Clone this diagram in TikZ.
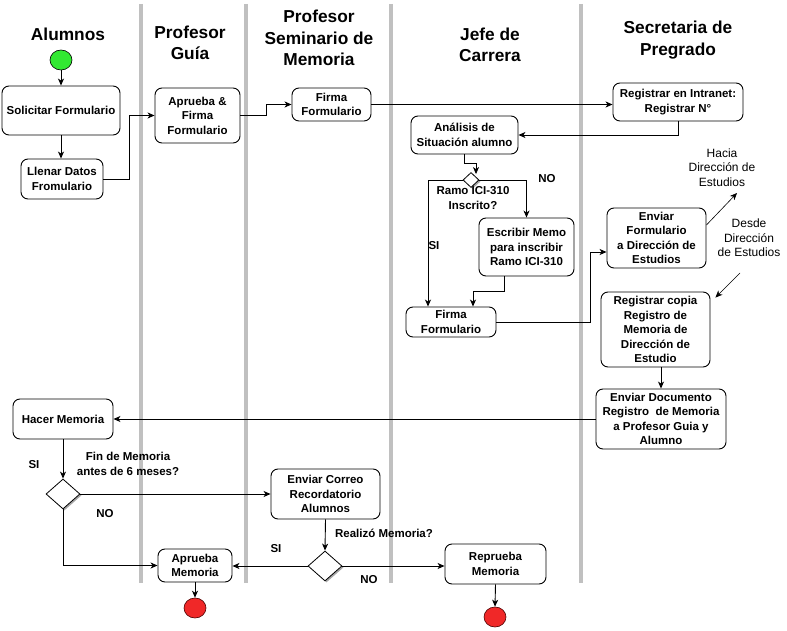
\documentclass[tikz,border=0pt]{standalone}
\usepackage{fontspec}
\setmainfont{Liberation Sans}
\usetikzlibrary{arrows.meta,shapes.geometric,shadows}
\definecolor{lanegray}{RGB}{192,192,192}
\definecolor{startgreen}{RGB}{50,232,50}
\definecolor{endred}{RGB}{240,40,40}
\tikzset{
  box/.style={draw=black, line width=0.9pt, rounded corners=7pt, fill=white, align=center,
    inner sep=0pt, font=\bfseries\fontsize{11.5}{14.5}\selectfont},
  dia/.style={draw=black, line width=0.8pt, diamond, fill=white, inner sep=0pt,
    drop shadow={shadow xshift=1.5pt, shadow yshift=-1.5pt, fill=black!35, opacity=1}},
  startnode/.style={draw=black, line width=0.6pt, ellipse, fill=startgreen, inner sep=0pt,
    minimum width=22pt, minimum height=20pt},
  endnode/.style={draw=black!70!red, line width=0.6pt, ellipse, fill=endred, inner sep=0pt,
    minimum width=22pt, minimum height=20pt},
  lane/.style={draw=lanegray, line width=4pt},
  head/.style={align=center, font=\bfseries\fontsize{17.3}{21.5}\selectfont},
  lbl/.style={align=center, font=\bfseries\fontsize{11.5}{15}\selectfont, inner sep=0pt},
  note/.style={align=center, font=\fontsize{12}{14.5}\selectfont, inner sep=0pt},
  arr/.style={draw=black, line width=0.9pt, -{Stealth[length=7pt,width=6pt,inset=2pt]}},
  thinarr/.style={draw=black, line width=0.6pt, -{Stealth[length=7pt,width=6pt,inset=2pt]}},
}
\begin{document}
\begin{tikzpicture}[x=1pt,y=-1pt]
\useasboundingbox (0,0) rectangle (787,631);
% lanes
\draw[lane] (141,4) -- (141,583);
\draw[lane] (246,4) -- (246,583);
\draw[lane] (391,4) -- (391,583);
\draw[lane] (581,4) -- (581,583);
% headers
\node[head] (h1) at (68,34) {Alumnos};
\node[head] (h2) at (190,43) {Profesor\\Guía};
\node[head] (h3) at (319,38) {Profesor\\Seminario de\\Memoria};
\node[head] (h4) at (490,45) {Jefe de\\Carrera};
\node[head] (h5) at (678,40) {Secretaria de\\Pregrado};
% nodes
\node[startnode] (start) at (61,60) {};
\node[box, minimum width=118pt, minimum height=49pt] (solicitar) at (61,110.5) {Solicitar Formulario};
\node[box, minimum width=82pt, minimum height=40pt] (llenar) at (62,179) {Llenar Datos\\Fromulario};
\node[box, minimum width=85pt, minimum height=55pt] (aprueba) at (197.5,115.5) {Aprueba \&\\Firma\\Formulario};
\node[box, minimum width=79pt, minimum height=33pt] (firma1) at (331.5,104.5) {Firma\\Formulario};
\node[box, minimum width=130pt, minimum height=38pt] (registrar) at (678,102) {Registrar en Intranet:\\Registrar N°};
\node[box, minimum width=107pt, minimum height=38pt] (analisis) at (464.5,135) {Análisis de\\Situación alumno};
\node[dia, minimum width=16pt, minimum height=15pt] (dia1) at (471,180) {};
\node[box, minimum width=95pt, minimum height=58pt] (escribir) at (526.5,247) {Escribir Memo\\para inscribir\\Ramo ICI-310};
\node[box, minimum width=90pt, minimum height=30pt] (firma2) at (451,322) {Firma\\Formulario};
\node[box, minimum width=99pt, minimum height=60pt] (enviarF) at (656.5,238) {Enviar\\Formulario\\a Dirección de\\Estudios};
\node[box, minimum width=109pt, minimum height=75pt] (regcopia) at (655.5,329.5) {Registrar copia\\Registro de\\Memoria de\\Dirección de\\Estudio};
\node[box, minimum width=130pt, minimum height=60pt] (enviarD) at (661,419) {Enviar Documento\\Registro\ \ de Memoria\\a Profesor Guia y\\Alumno};
\node[box, minimum width=100pt, minimum height=40pt] (hacer) at (63,419) {Hacer Memoria};
\node[dia, minimum width=34pt, minimum height=30pt] (dia2) at (63,494) {};
\node[box, minimum width=109pt, minimum height=50pt] (correo) at (325.5,494) {Enviar Correo\\Recordatorio\\Alumnos};
\node[dia, minimum width=34pt, minimum height=30pt] (dia3) at (325,566) {};
\node[box, minimum width=74pt, minimum height=33pt] (aprueba2) at (195,565.5) {Aprueba\\Memoria};
\node[box, minimum width=101pt, minimum height=40pt] (reprueba) at (495.5,564) {Reprueba\\Memoria};
\node[endnode] (end1) at (195,608) {};
\node[endnode] (end2) at (495,617) {};
% labels
\node[lbl] (lno1) at (547,179) {NO};
\node[lbl] (lramo) at (473,198) {Ramo ICI-310\\Inscrito?};
\node[lbl] (lsi1) at (434,246) {SI};
\node[lbl] (lsi2) at (34,465) {SI};
\node[lbl] (lfin) at (128,463.5) {Fin de Memoria\\antes de 6 meses?};
\node[lbl] (lno2) at (105,514) {NO};
\node[lbl] (lreal) at (384,533) {Realizó Memoria?};
\node[lbl] (lsi3) at (276,549) {SI};
\node[lbl] (lno3) at (369,580) {NO};
\node[note] (hacia) at (722,167.5) {Hacia\\Dirección de\\Estudios};
\node[note] (desde) at (749,238) {Desde\\Dirección\\de Estudios};
\coordinate (hend) at (737,193);
\coordinate (dstart) at (740,273);
% connectors
\draw[arr] (start) -- (solicitar);
\draw[arr] (solicitar.south) -- (solicitar.south |- llenar.north);
\draw[arr] (llenar.east) -- ++(26,0) |- (aprueba.west);
\draw[arr] (aprueba.east) -- ++(26,0) |- (firma1.west);
\draw[arr] (firma1.east) -- (firma1.east -| registrar.west);
\draw[arr] (registrar.south) |- (analisis.east);
\draw[arr] (analisis.south) -- ++(0,9) -| ([xshift=5pt,yshift=-2pt]dia1.north);
\draw[arr] (dia1.west) -| ([xshift=-23pt]firma2.north);
\draw[arr] (dia1.east) -| (escribir.north);
\draw[arr] ([xshift=-22.5pt]escribir.south) -- ++(0,15) -| ([xshift=22pt]firma2.north);
\draw[arr] (firma2.east) -- ++(94,0) |- ([yshift=-14pt]enviarF.west);
\draw[thinarr] ([yshift=13pt]enviarF.east) -- (hend);
\draw[thinarr] (dstart) -- ([xshift=5pt,yshift=-6pt]regcopia.north east);
\draw[arr] (enviarD.north |- regcopia.south) -- (enviarD.north);
\draw[arr] (enviarD.west) -- (hacer.east);
\draw[arr] (hacer.south) -- (dia2.north);
\draw[arr] (dia2.east) -- (correo.west);
\draw[arr] (dia2.south) |- (aprueba2.west);
\draw[arr] (aprueba2.south) -- (end1.north);
\draw[arr] (correo.south) -- (dia3.north);
\draw[arr] (dia3.west) -- (dia3.west -| aprueba2.east);
\draw[arr] (dia3.east) -- (dia3.east -| reprueba.west);
\draw[arr] (reprueba.south) -- (end2.north);
\end{tikzpicture}
\end{document}
